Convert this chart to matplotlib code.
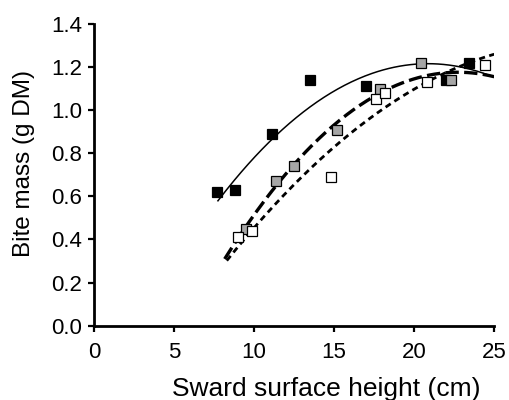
import numpy as np
from matplotlib import pyplot as plt

# sward height (cm) and bite mass (g DM) for the three treatments
black_x = [7.7, 8.8, 11.1, 13.5, 17.0, 22.0, 23.4]
black_y = [0.62, 0.63, 0.89, 1.14, 1.11, 1.14, 1.22]
grey_x = [9.5, 11.4, 12.5, 15.2, 17.9, 20.4, 22.3]
grey_y = [0.45, 0.67, 0.74, 0.91, 1.10, 1.22, 1.14]
white_x = [9.0, 9.85, 14.8, 17.6, 18.2, 20.8, 24.4]
white_y = [0.41, 0.44, 0.69, 1.05, 1.08, 1.13, 1.21]

# quadratic regression coefficients (x^2, x, 1) and fitted range
black_fit = [-0.0037, 0.1544, -0.395]
grey_fit = [-0.00408, 0.1856, -0.9347]
white_fit = [-0.00213, 0.1283, -0.6166]
black_rng = [7.75, 24.85]
grey_rng = [8.17, 25.0]
white_rng = [8.3, 25.0]

plt.rcParams['font.family'] = ['Liberation Sans', 'DejaVu Sans']

fig = plt.figure(figsize=(5.1, 4.0), dpi=100)
ax = fig.add_axes([0.184, 0.186, 0.785, 0.754])


def fit_line(c, rng, **kw):
    xx = np.linspace(rng[0], rng[1], 200)
    ax.plot(xx, np.polyval(c, xx), color='black', **kw)


fit_line(black_fit, black_rng, lw=1.1, ls='-')
fit_line(grey_fit, grey_rng, lw=2.4, ls=(0, (4, 1.6)))
fit_line(white_fit, white_rng, lw=2.0, ls=(0, (2.2, 1.6)))

mk = dict(marker='s', ms=6.5, mec='black', mew=0.9, ls='none', zorder=3)
ax.plot(black_x, black_y, mfc='black', **mk)
ax.plot(grey_x, grey_y, mfc='#a6a6a6', **mk)
ax.plot(white_x, white_y, mfc='white', **mk)

ax.set_xlim(0, 25)
ax.set_ylim(0, 1.4)
ax.set_xticks(range(0, 26, 5))
ax.set_yticks(np.arange(0, 1.41, 0.2))
ax.yaxis.set_major_formatter(plt.FormatStrFormatter('%.1f'))

for s in ['top', 'right']:
    ax.spines[s].set_visible(False)
for s in ['left', 'bottom']:
    ax.spines[s].set_linewidth(2.0)
ax.tick_params(direction='out', length=4.5, width=1.6, labelsize=16)
ax.tick_params(axis='x', pad=7)
ax.tick_params(axis='y', pad=4)

ax.set_xlabel('Sward surface height (cm)', fontsize=19)
ax.set_ylabel('Bite mass (g DM)', fontsize=17.5)
ax.xaxis.set_label_coords(0.58, -0.172)
ax.yaxis.set_label_coords(-0.147, 0.539)

plt.savefig('out.png', dpi=100)
